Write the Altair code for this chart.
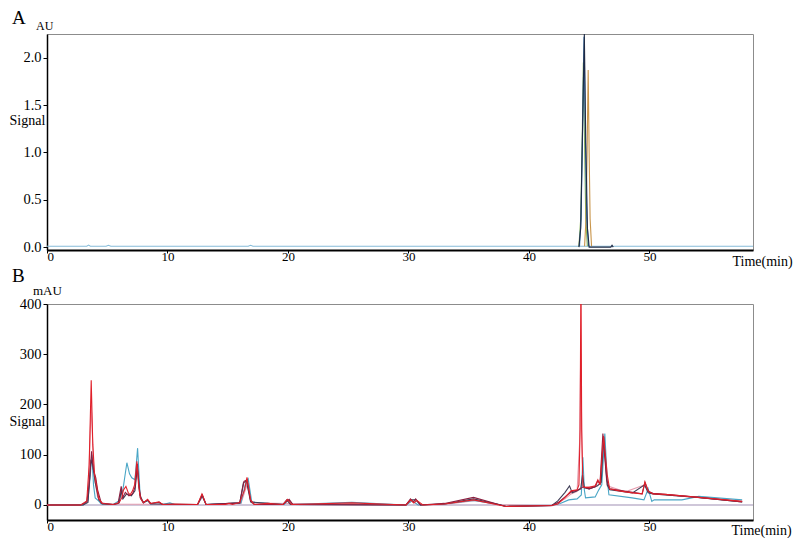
import altair as alt
import pandas as pd

# ---------------- Panel A (AU) ----------------
A_BASE = [(0, 0.01), (3.3, 0.01), (3.45, 0.022), (3.6, 0.01), (4.9, 0.01), (5.1, 0.02), (5.3, 0.01),
          (16.7, 0.01), (16.9, 0.02), (17.1, 0.01), (58.6, 0.01)]
A_GREEN = [(44.15, 0.01), (44.3, 0.3), (44.42, 1.1), (44.52, 1.95), (44.62, 1.1), (44.72, 0.3), (44.85, 0.01)]
A_ORANGE = [(44.62, 0.01), (44.74, 0.3), (44.83, 1.0), (44.92, 1.87), (45.0, 1.0), (45.08, 0.3), (45.2, 0.01)]
A_BLUE = [(44.2, 0.01), (44.33, 0.3), (44.45, 1.2), (44.58, 2.22), (44.68, 1.2), (44.8, 0.3), (44.95, 0.01)]
A_NAVY = [(44.15, 0.0), (44.3, 0.2), (44.43, 1.1), (44.6, 2.25), (44.72, 1.1), (44.86, 0.2), (45.0, 0.0),
          (46.8, 0.0), (46.9, 0.02), (47.0, 0.0)]

A_NAMES = ["baseline", "green", "orange", "blue", "navy"]
A_COLORS = ["#86bcd9", "#8db255", "#c9954a", "#2f74b5", "#1f2a44"]
A_DATA = [A_BASE, A_GREEN, A_ORANGE, A_BLUE, A_NAVY]

# ---------------- Panel B (mAU) ----------------
B_FLAT = [(0, 0), (58.6, 0)]
B_PINK = [(0, 0), (3.0, 0), (3.4, 8), (3.67, 200), (3.9, 60), (4.2, 15), (4.6, 2), (12.5, 1), (12.9, 16),
          (13.2, 1), (16.1, 3), (16.6, 40), (17.0, 4), (29.8, 0), (30.3, 8), (30.8, 0), (33, 1), (35.6, 9),
          (37.5, 0), (41.9, -2), (43.0, 12), (43.5, 22), (44.0, 27), (44.2, 120), (44.3, 300), (44.4, 120),
          (44.5, 35), (45.5, 36), (46.0, 45), (46.25, 130), (46.5, 38), (48.0, 26), (49.6, 40), (49.9, 25),
          (50.3, 22), (54.0, 15), (57.7, 7)]
B_TEAL = [(0, 0), (3.0, 0), (3.4, 10), (3.6, 60), (3.72, 100), (3.86, 40), (4.0, 14), (4.28, 8), (4.5, 2),
          (5.5, 1), (5.95, 8), (6.3, 30), (6.63, 84), (6.85, 62), (7.04, 54), (7.3, 50), (7.52, 113),
          (7.74, 14), (8.0, 4), (8.35, 9), (8.6, 2), (9.3, 5), (9.6, 1), (10.2, 4), (10.6, 1), (12.5, 1),
          (12.9, 18), (13.2, 1), (16.1, 4), (16.5, 45), (16.7, 52), (17.0, 5), (18.3, 3), (19.7, 1),
          (20.0, 10), (20.3, 1), (25.3, 5), (29.8, 0), (30.3, 8), (30.8, 0), (33, 2), (35.4, 9), (37.5, 1),
          (38.1, -3), (41.9, -1), (42.6, 3), (43.3, 10), (44.0, 12), (44.35, 20), (44.48, 95), (44.6, 30),
          (44.7, 14), (45.5, 16), (45.8, 30), (46.05, 40), (46.3, 142), (46.5, 50), (46.64, 20),
          (48.57, 14), (49.55, 10), (49.9, 32), (50.2, 7), (50.4, 10), (52.7, 10), (54.1, 17), (57.7, 10)]
B_GRAY = [(0, 0), (3.0, 0), (3.4, 5), (3.65, 90), (3.8, 80), (4.0, 45), (4.3, 10), (4.6, 2), (5.5, 1),
          (6.0, 4), (6.16, 30), (6.3, 12), (6.6, 22), (7.0, 18), (7.3, 28), (7.5, 75), (7.7, 20), (8.0, 5),
          (8.35, 9), (8.6, 2), (12.5, 1), (12.86, 19), (13.2, 1), (16.0, 4), (16.3, 44), (16.55, 48),
          (16.9, 6), (19.6, 1), (19.9, 10), (20.2, 1), (29.8, 0), (30.2, 10), (30.6, 10), (31.0, 0), (33, 2),
          (35.4, 12), (37.5, 1), (38.1, -3), (41.9, -1), (42.4, 8), (43.0, 25), (43.37, 38), (43.6, 24),
          (44.0, 28), (44.3, 32), (44.45, 60), (44.6, 34), (45.0, 32), (45.7, 38), (46.0, 45), (46.2, 135),
          (46.5, 40), (46.7, 30), (48.6, 24), (49.6, 40), (49.9, 24), (50.3, 22), (54.0, 15), (57.7, 6)]
B_MAROON = [(0, 0), (2.8, 0), (3.3, 6), (3.5, 40), (3.7, 107), (3.85, 70), (4.05, 54), (4.2, 30), (4.5, 4),
            (5.5, 1), (5.9, 3), (6.16, 37), (6.3, 15), (6.5, 25), (6.8, 18), (7.1, 22), (7.3, 35), (7.5, 82),
            (7.65, 35), (7.8, 12), (8.0, 5), (8.35, 10), (8.6, 3), (9.3, 5), (9.6, 1), (12.5, 1), (12.9, 20),
            (13.2, 1), (16.0, 4), (16.35, 47), (16.6, 50), (16.9, 8), (17.2, 1), (19.6, 1), (20.1, 11),
            (20.4, 1), (29.8, 0), (30.17, 12), (30.4, 5), (30.6, 12), (31.0, 0), (33, 3), (35.4, 15),
            (37.5, 1), (38.1, -3), (41.9, -1), (42.5, 6), (43.2, 20), (43.6, 27), (44.0, 29), (44.3, 33),
            (44.5, 36), (45.0, 32), (45.5, 36), (45.72, 48), (45.9, 42), (46.14, 142), (46.45, 50),
            (46.7, 32), (48.6, 25), (49.4, 22), (49.63, 44), (49.95, 26), (50.3, 23), (51.3, 21), (54.1, 15),
            (57.7, 6)]
B_RED = [(0, 0), (2.8, 0), (3.3, 8), (3.5, 80), (3.67, 248), (3.8, 120), (3.95, 60), (4.1, 40), (4.3, 12),
         (4.6, 3), (5.5, 1), (6.0, 5), (6.2, 14), (6.35, 30), (6.55, 37), (6.75, 24), (6.9, 20), (7.1, 28),
         (7.27, 40), (7.46, 87), (7.6, 40), (7.74, 14), (8.0, 4), (8.35, 11), (8.6, 3), (9.3, 6), (9.6, 1),
         (10.5, 2), (12.5, 1), (12.86, 22), (13.2, 1), (14.8, 1), (15.1, 3), (15.4, 1), (16.0, 5), (16.4, 30),
         (16.6, 55), (16.9, 10), (17.2, 1), (18.3, 3), (19.6, 1), (19.95, 11), (20.3, 1), (25.3, 4),
         (29.8, 0), (30.2, 10), (30.45, 4), (30.7, 9), (31.2, 0), (33, 2), (35.4, 10), (37.5, 0),
         (38.1, -3), (41.9, -1), (42.4, 2), (43.0, 15), (43.5, 28), (44.0, 30), (44.15, 40), (44.25, 150),
         (44.32, 480), (44.38, 150), (44.48, 38), (44.6, 35), (45.0, 35), (45.5, 38), (45.72, 50),
         (45.9, 40), (46.2, 137), (46.5, 60), (46.7, 32), (47.5, 28), (48.6, 24), (49.4, 22), (49.63, 46),
         (49.9, 28), (50.3, 22), (51.3, 21), (54.1, 15), (57.7, 7)]

B_NAMES = ["flat", "pink", "teal", "gray", "maroon", "red"]
B_COLORS = ["#a090b4", "#e79cae", "#4aa6c6", "#3f3d56", "#8b1e3f", "#e0202a"]
B_DATA = [B_FLAT, B_PINK, B_TEAL, B_GRAY, B_MAROON, B_RED]

X_TICKS = [0, 10, 20, 30, 40, 50]
A_TICKS = [0.0, 0.5, 1.0, 1.5, 2.0]
B_TICKS = [0, 100, 200, 300, 400]

FONT = "Liberation Serif, Times New Roman, Times, DejaVu Serif, serif"
W, H = 706, 216


def frame(names, data):
    rows = []
    for n, pts in zip(names, data):
        for t, v in pts:
            rows.append({"series": n, "t": t, "v": v})
    return pd.DataFrame(rows)


def panel(names, colors, data, ydom, yticks, yfmt, letter, unit, sig_y, let_xy, unit_xy, unit_size,
          time_x, time_y):
    df = frame(names, data)
    xenc = alt.X("t:Q", scale=alt.Scale(domain=[0, 58.6], nice=False, zero=False),
                 axis=alt.Axis(values=X_TICKS, title="Time(min)", titleX=time_x, titleY=time_y,
                               titleAlign="left", titleBaseline="alphabetic", titleAnchor="start"))
    yenc = alt.Y("v:Q", scale=alt.Scale(domain=ydom, nice=False, zero=False),
                 axis=alt.Axis(values=yticks, format=yfmt, title="Signal", titleAngle=0, titleX=-38,
                               titleY=sig_y, titleAlign="left", titleBaseline="alphabetic"))
    layers = []
    for n, c in zip(names, colors):
        layers.append(
            alt.Chart(df).transform_filter(alt.datum.series == n)
            .mark_line(color=c, strokeWidth=1.1, clip=True)
            .encode(x=xenc, y=yenc)
        )
    lab = pd.DataFrame({"label": [letter]})
    un = pd.DataFrame({"label": [unit]})
    layers.append(alt.Chart(lab).mark_text(align="left", baseline="alphabetic", fontSize=19, font=FONT,
                                           color="black")
                  .encode(x=alt.value(let_xy[0]), y=alt.value(let_xy[1]), text="label:N"))
    layers.append(alt.Chart(un).mark_text(align="left", baseline="alphabetic", fontSize=unit_size, font=FONT,
                                          color="black")
                  .encode(x=alt.value(unit_xy[0]), y=alt.value(unit_xy[1]), text="label:N"))
    return alt.layer(*layers).properties(width=W, height=H)


pa = panel(A_NAMES, A_COLORS, A_DATA, [-0.03, 2.25], A_TICKS, ".1f", "A", "AU", 90,
           (-35, -10), (-11, -4), 12, 685, 15)
pb = panel(B_NAMES, B_COLORS, B_DATA, [-30, 400], B_TICKS, "d", "B", "mAU", 121,
           (-35, -22), (-14, -9), 13, 684, 14)

chart = alt.vconcat(pa, pb, spacing=54, bounds="flush").properties(
    padding={"left": 0, "top": 0, "right": 0, "bottom": 0}
).configure_view(
    stroke="#8c8c8c", strokeWidth=1
).configure_axis(
    grid=False, labelFont=FONT, titleFont=FONT, labelColor="black", titleColor="black",
    titleFontWeight="normal", titleFontSize=14, domainColor="black", tickColor="black"
).configure_axisX(
    domainWidth=2, tickSize=3, labelFontSize=13, labelPadding=-3
).configure_axisY(
    domainWidth=1.5, tickSize=4, labelFontSize=14.5, labelPadding=2
)

chart.save("out.html", embed_options={"renderer": "svg", "actions": False})
